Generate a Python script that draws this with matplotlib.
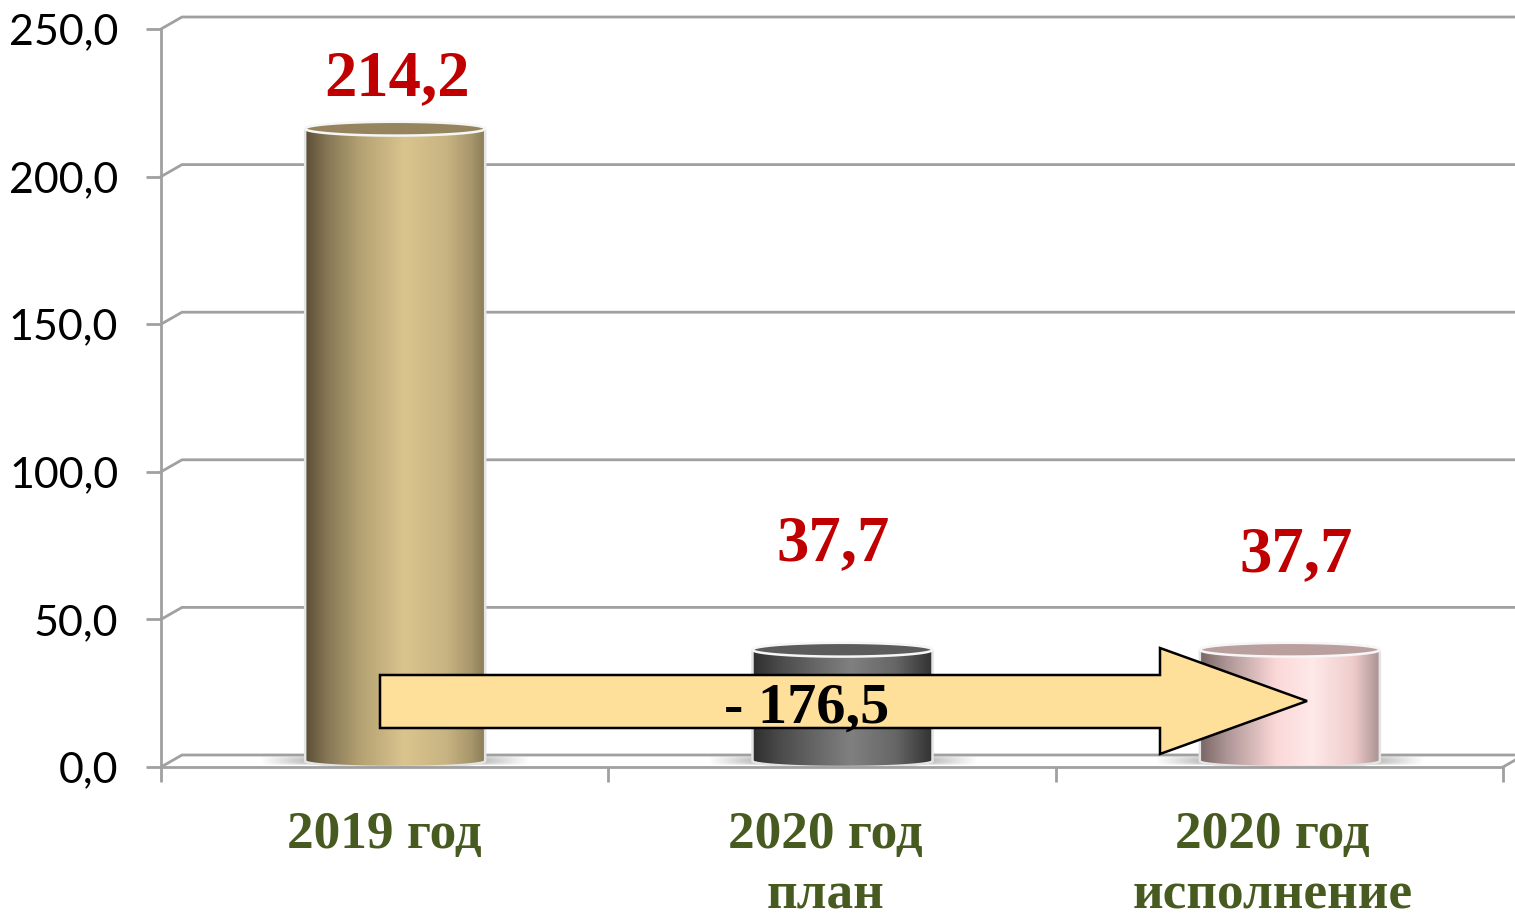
import matplotlib
matplotlib.use('Agg')
import matplotlib.pyplot as plt
from matplotlib.colors import LinearSegmentedColormap
from matplotlib.patches import PathPatch, Polygon
from matplotlib.path import Path
from matplotlib.transforms import Affine2D
import numpy as np

# chart data
categories = ['2019 год', '2020 год\nплан', '2020 год\nисполнение']
values = [214.2, 37.7, 37.7]
value_labels = ['214,2', '37,7', '37,7']
y_ticks = [0, 50, 100, 150, 200, 250]
y_tick_labels = ['0,0', '50,0', '100,0', '150,0', '200,0', '250,0']
diff_label = '- 176,5'

W, H = 1515, 915
SERIF = 'Liberation Serif'

fig = plt.figure(figsize=(W / 100, H / 100), dpi=100, facecolor='white')
ax = fig.add_axes([161 / W, 1 - 767 / H, (1503 - 161) / W, (767 - 29) / H])

# 3d look: back wall offset in data units
dx = 21 / (1342 / 3)
dy = 12 / (738 / 250)
grid_color = '#a0a0a0'
grid_lw = 2.0

for t in y_ticks:
    ax.plot([0, dx, 3 + dx], [t, t + dy, t + dy], color=grid_color, lw=grid_lw,
            clip_on=False, zorder=1, solid_joinstyle='miter')
ax.plot([3, 3 + dx], [0, dy], color=grid_color, lw=grid_lw, clip_on=False, zorder=1)

# cylinder colours: (side stops, top colour)
styles = [
    ([(0, '#5a4e36'), (0.12, '#857655'), (0.3, '#b3a172'), (0.55, '#dac48e'),
      (0.78, '#c8b482'), (0.92, '#a8976c'), (1, '#8a7b57')], '#96845f'),
    ([(0, '#2e2e2e'), (0.15, '#4a4a4a'), (0.35, '#666666'), (0.55, '#808080'),
      (0.8, '#666666'), (1, '#333333')], '#5c5c5c'),
    ([(0, '#7a6565'), (0.15, '#ae9696'), (0.42, '#fbd8d8'), (0.62, '#ffe9e9'),
      (0.85, '#efcccc'), (1, '#a89090')], '#ba9f9f'),
]

bar_w = 180 / (1342 / 3)
ry = 6 / (738 / 250)
theta = np.linspace(0, np.pi, 60)
shadow_w = 0.31

for i, (val, (stops, top_col)) in enumerate(zip(values, styles)):
    cx = i + 0.5 + dx / 2
    rx = bar_w / 2

    # floor shadow
    sx = np.linspace(-1, 1, 200)
    sy = np.linspace(-1, 1, 30)
    alpha = np.clip(1.5 - np.abs(sx) * 1.55, 0, 1)[None, :] * (1 - sy[:, None] ** 2) ** 0.4
    rgba = np.zeros((30, 200, 4))
    rgba[..., :3] = 0.5
    rgba[..., 3] = alpha
    ax.imshow(rgba, extent=[cx - shadow_w, cx + shadow_w, 0.8, 3.8], aspect='auto', zorder=2)

    # side of the cylinder
    top = val + ry
    side_x = np.concatenate([[cx - rx], cx - rx * np.cos(theta), [cx + rx]])
    side_y = np.concatenate([[top], ry - ry * np.sin(theta), [top]])
    side = Path(np.column_stack([side_x, side_y]))
    cmap = LinearSegmentedColormap.from_list('c%d' % i, stops)
    im = ax.imshow(np.linspace(0, 1, 256)[None, :], cmap=cmap, aspect='auto',
                   extent=[cx - rx, cx + rx, 0, top], zorder=3)
    im.set_clip_path(PathPatch(side, transform=ax.transData))
    ax.add_patch(PathPatch(side, fill=False, ec='#e4e4e4', lw=1.8, zorder=4))

    # top ellipse
    ell = np.linspace(0, 2 * np.pi, 120)
    ax.add_patch(Polygon(np.column_stack([cx + rx * np.cos(ell), top + 1.15 * ry * np.sin(ell)]),
                         closed=True, fc=top_col, ec='#f6f6f6', lw=1.8, zorder=5))

ax.set_xlim(0, 3)
ax.set_ylim(0, 250)
ax.set_facecolor('none')

for s in ['top', 'right']:
    ax.spines[s].set_visible(False)
for s in ['left', 'bottom']:
    ax.spines[s].set_color(grid_color)
    ax.spines[s].set_linewidth(grid_lw)
    ax.spines[s].set_zorder(6)

ax.set_yticks(y_ticks)
ax.set_yticklabels(y_tick_labels, fontsize=31, fontfamily='Lato', color='black')
ax.tick_params(axis='y', length=10.8, width=grid_lw, color=grid_color, pad=20)
ax.set_xticks([0, 1, 2, 3])
ax.set_xticklabels([])
ax.tick_params(axis='x', length=10.8, width=grid_lw, color=grid_color)

# category labels
for x, name in zip([0.5, 1.485, 2.485], categories):
    ax.annotate(name, (x, 0), xytext=(0, -32), textcoords='offset points', ha='center', va='top',
                fontsize=38.3, fontweight='bold', family=SERIF, color='#475a1f',
                linespacing=1.32, annotation_clip=False)

# value labels, placed by hand like in the source slide
for x, y, txt in zip([0.5276, 1.502, 2.537], [227.6, 70.1, 66.4], value_labels):
    ax.text(x, y, txt, ha='center', va='baseline', fontsize=46.5, fontweight='bold',
            family=SERIF, color='#c00000', zorder=8)

# difference arrow drawn in pixel coords on top
to_fig = Affine2D().scale(1, -1).translate(0, H)
arrow = [(380, 675), (1160, 675), (1160, 648), (1307, 701), (1160, 754), (1160, 728), (380, 728)]
fig.add_artist(Polygon(arrow, closed=True, fc='#fee09b', ec='black', lw=1.8,
                       transform=to_fig, zorder=10, joinstyle='miter'))
fig.text(806.5 / W, 1 - 723 / H, diff_label, ha='center', va='baseline', fontsize=42,
         fontweight='bold', family=SERIF, color='black', zorder=11)

fig.savefig('out.png', dpi=100)
